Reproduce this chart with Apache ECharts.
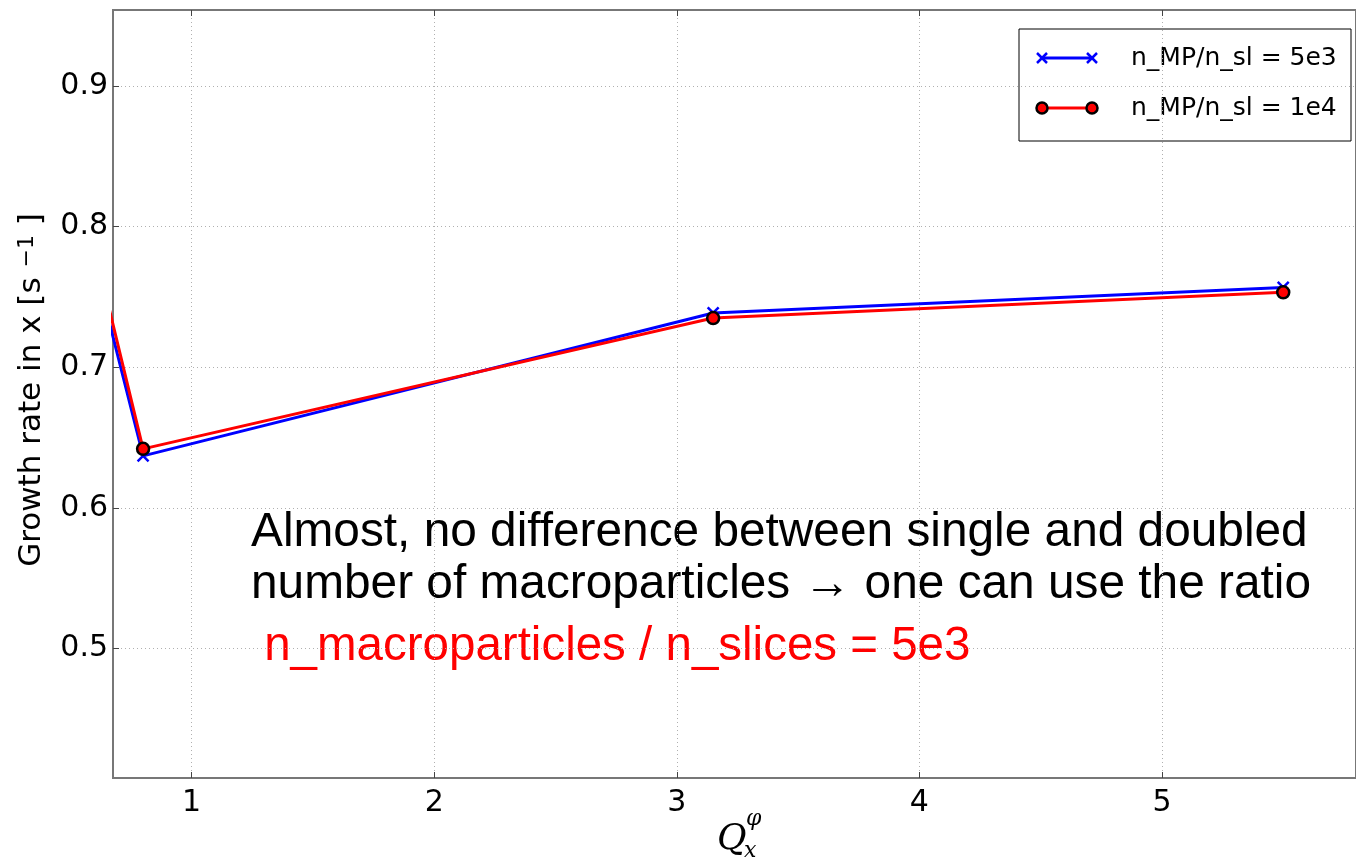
<!DOCTYPE html>
<html>
<head>
<meta charset="utf-8">
<title>Growth rate vs chromaticity</title>
<script src="https://cdn.jsdelivr.net/npm/echarts@6/dist/echarts.min.js"></script>
<style>
  html, body { margin: 0; padding: 0; background: #fff; }
  #chart { width: 1356px; height: 861px; }
</style>
</head>
<body>
<div id="chart"></div>
<script>
// Chromaticity values Q_x^phi at which the growth rate was computed
const chromaticity = [0.5, 0.8, 3.15, 5.5];
// Growth rate in x [1/s] for the two macroparticle-per-slice ratios
const growth5e3 = [0.842, 0.637, 0.7386, 0.7568];
const growth1e4 = [0.856, 0.642, 0.735, 0.7533];
// Tick values
const xTicks = [1, 2, 3, 4, 5];
const yTicks = [0.5, 0.6, 0.7, 0.8, 0.9];
const seriesNames = ['n_MP/n_sl = 5e3', 'n_MP/n_sl = 1e4'];

const pairs = (xs, ys) => xs.map((x, i) => [x, ys[i]]);

const GRID = { left: 113, top: 10, width: 1246, height: 768 };
const TICK_FONT = 'DejaVu Sans';
const gridLine = { show: true, lineStyle: { color: '#b0b0b0', width: 1, type: [1, 3] } };
const frameLine = { show: true, lineStyle: { color: '#777', width: 2 } };
const tickIn = { show: true, inside: true, length: 6, lineStyle: { color: '#444', width: 1 } };

const crossPath = 'path://M0,0L10,10M10,0L0,10';

const chart = echarts.init(document.getElementById('chart'));

// Legend box in the matplotlib style (two markers per line sample)
const LG = { x: 1019, y: 29, w: 332, h: 112 };
const legendRows = [
  { y: 58, color: '#0000ff', marker: 'x', label: seriesNames[0] },
  { y: 108, color: '#ff0000', marker: 'o', label: seriesNames[1] }
];
const legendChildren = [{
  type: 'rect',
  shape: { x: LG.x, y: LG.y, width: LG.w, height: LG.h },
  style: { fill: '#fff', stroke: '#000', lineWidth: 1 }
}];
legendRows.forEach(r => {
  legendChildren.push({
    type: 'line',
    shape: { x1: 1042, y1: r.y, x2: 1092, y2: r.y },
    style: { stroke: r.color, lineWidth: 3 }
  });
  [1042, 1092].forEach(cx => {
    if (r.marker === 'x') {
      legendChildren.push({
        type: 'line',
        shape: { x1: cx - 5, y1: r.y - 5, x2: cx + 5, y2: r.y + 5 },
        style: { stroke: r.color, lineWidth: 2.5 }
      });
      legendChildren.push({
        type: 'line',
        shape: { x1: cx + 5, y1: r.y - 5, x2: cx - 5, y2: r.y + 5 },
        style: { stroke: r.color, lineWidth: 2.5 }
      });
    } else {
      legendChildren.push({
        type: 'circle',
        shape: { cx: cx, cy: r.y, r: 5.5 },
        style: { fill: r.color, stroke: '#000', lineWidth: 2.5 }
      });
    }
  });
  legendChildren.push({
    type: 'text',
    style: {
      x: 1131, y: r.y, text: r.label,
      font: '25px "DejaVu Sans"', fill: '#000',
      verticalAlign: 'middle', align: 'left'
    }
  });
});

chart.setOption({
  animation: false,
  backgroundColor: '#fff',
  grid: Object.assign({ show: true, borderColor: '#777', borderWidth: 2, backgroundColor: '#fff' }, GRID),
  xAxis: [{
    type: 'value',
    min: 0.676, max: 5.8,
    axisLine: frameLine,
    axisTick: Object.assign({ customValues: xTicks }, tickIn),
    splitLine: gridLine,
    axisLabel: {
      customValues: xTicks,
      fontFamily: TICK_FONT, fontSize: 30, color: '#000', margin: 10
    }
  }, {
    type: 'value', position: 'top',
    min: 0.676, max: 5.8,
    axisLine: frameLine,
    axisTick: Object.assign({ customValues: xTicks }, tickIn),
    splitLine: { show: false },
    axisLabel: { show: false }
  }],
  yAxis: [{
    type: 'value',
    min: 0.408, max: 0.954,
    axisLine: frameLine,
    axisTick: Object.assign({ customValues: yTicks }, tickIn),
    splitLine: gridLine,
    axisLabel: {
      customValues: yTicks,
      formatter: v => v.toFixed(1),
      fontFamily: TICK_FONT, fontSize: 30, color: '#000', margin: 5
    },
    name: '{a|Growth rate in x [s }{b|−1}{a| ]}',
    nameLocation: 'middle',
    nameRotate: 90,
    nameGap: 66,
    nameTextStyle: {
      padding: [0, 0, 0, 8],
      rich: {
        a: { fontFamily: TICK_FONT, fontSize: 31, color: '#000' },
        b: { fontFamily: TICK_FONT, fontSize: 22, color: '#000', verticalAlign: 'top' }
      }
    }
  }],
  series: [{
    name: seriesNames[0],
    type: 'line',
    data: pairs(chromaticity, growth5e3),
    symbol: crossPath,
    symbolSize: 11,
    lineStyle: { color: '#0000ff', width: 3 },
    itemStyle: { color: '#0000ff', borderColor: '#0000ff', borderWidth: 2.5 },
    clip: true
  }, {
    name: seriesNames[1],
    type: 'line',
    data: pairs(chromaticity, growth1e4),
    symbol: 'circle',
    symbolSize: 12,
    lineStyle: { color: '#ff0000', width: 3 },
    itemStyle: { color: '#ff0000', borderColor: '#000', borderWidth: 2.5 },
    clip: true
  }],
  graphic: [
    { type: 'group', children: legendChildren },
    // x-axis title Q_x^phi
    {
      type: 'text',
      style: { x: 717, y: 840, text: 'Q', font: 'italic 36px "DejaVu Serif"', fill: '#000', verticalAlign: 'middle' }
    },
    {
      type: 'text',
      style: { x: 746, y: 819, text: 'φ', font: 'italic 22px "DejaVu Serif"', fill: '#000', verticalAlign: 'middle' }
    },
    {
      type: 'text',
      style: { x: 744, y: 851, text: 'x', font: 'italic 22px "DejaVu Serif"', fill: '#000', verticalAlign: 'middle' }
    },
    // Annotation
    {
      type: 'text',
      style: {
        x: 251, y: 533,
        text: 'Almost, no difference between single and doubled',
        font: '47.8px "Liberation Sans"', fill: '#000', verticalAlign: 'middle'
      }
    },
    {
      type: 'text',
      style: {
        x: 251, y: 585,
        text: 'number of macroparticles → one can use the ratio',
        font: '47.8px "Liberation Sans"', fill: '#000', verticalAlign: 'middle'
      }
    },
    {
      type: 'text',
      style: {
        x: 251, y: 647,
        text: ' n_macroparticles / n_slices = 5e3',
        font: '47.5px "Liberation Sans"', fill: '#ff0000', verticalAlign: 'middle'
      }
    }
  ]
});
</script>
</body>
</html>
